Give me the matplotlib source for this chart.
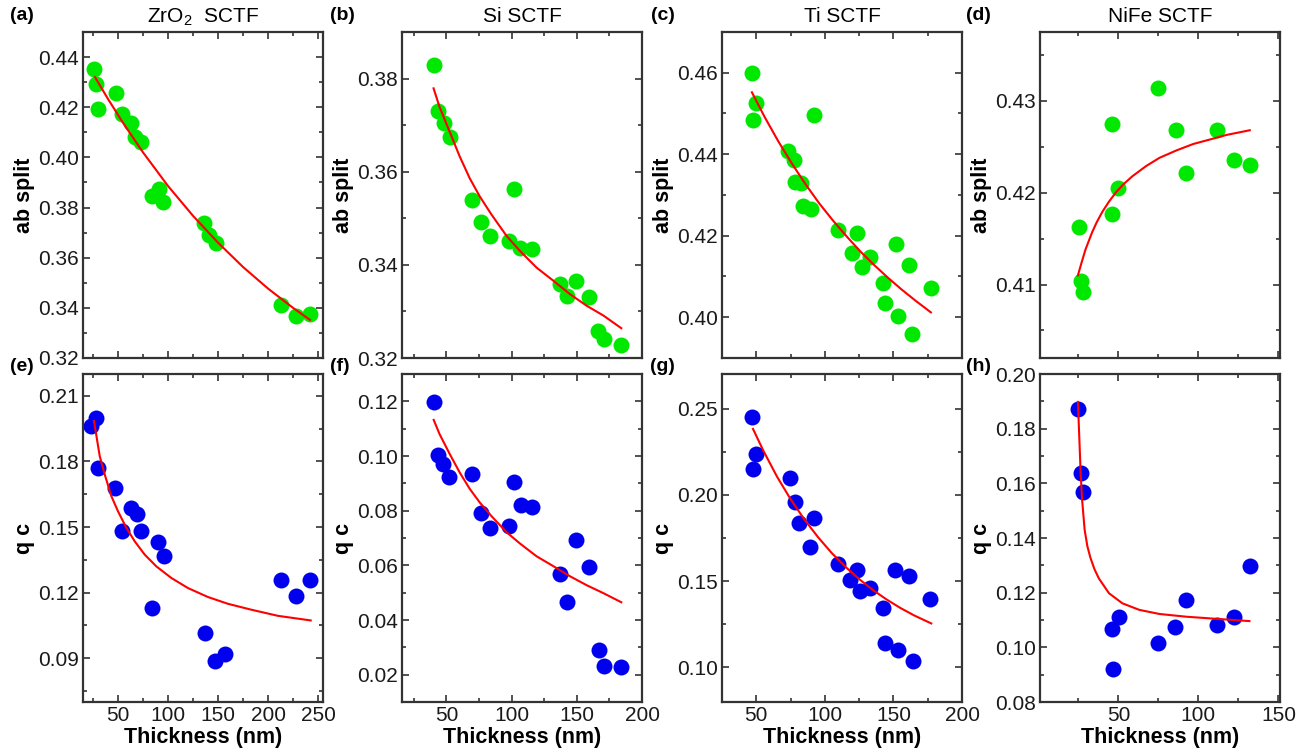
import numpy as np, matplotlib; matplotlib.use('Agg')
import matplotlib.pyplot as plt
from matplotlib.ticker import MultipleLocator, FormatStrFormatter

plt.rcParams['font.family'] = ['Liberation Sans', 'DejaVu Sans']
plt.rcParams['mathtext.fontset'] = 'custom'
plt.rcParams['mathtext.rm'] = 'Liberation Sans'
plt.rcParams['mathtext.default'] = 'regular'

# ---- ZrO2 ----
zro2_ab_x = [26.0, 28.3, 30.0, 47.7, 54.3, 63.3, 66.7, 73.3, 84.0, 91.0, 95.0, 135.7, 141.0, 148.3, 212.7, 227.7, 242.3]
zro2_ab_y = [0.4351, 0.4292, 0.4193, 0.4255, 0.4173, 0.4137, 0.4080, 0.4060, 0.3845, 0.3872, 0.3823, 0.3740, 0.3691, 0.3660, 0.3413, 0.3367, 0.3374]
zro2_ab_fx = [27, 40, 54, 75, 100, 125, 150, 175, 200, 225, 242]
zro2_ab_fy = [0.4320, 0.4233, 0.4144, 0.4020, 0.3886, 0.3767, 0.3660, 0.3563, 0.3477, 0.3400, 0.3352]
zro2_qc_x = [23.4, 27.7, 30.0, 47.4, 54.3, 63.4, 69.0, 73.4, 90.0, 96.0, 84.0, 136.7, 146.7, 156.7, 212.7, 227.7, 242.3]
zro2_qc_y = [0.1962, 0.2001, 0.1771, 0.1680, 0.1481, 0.1588, 0.1560, 0.1481, 0.1432, 0.1369, 0.1129, 0.1014, 0.0889, 0.0920, 0.1259, 0.1186, 0.1256]
zro2_qc_fx = [26.0, 31.7, 36.7, 43.4, 50.0, 58.4, 66.7, 76.7, 88.4, 103.4, 120.0, 140.0, 160.0, 183.4, 210.0, 242.7]
zro2_qc_fy = [0.1985, 0.1825, 0.1741, 0.1641, 0.1572, 0.1496, 0.1435, 0.1374, 0.1320, 0.1267, 0.1221, 0.1180, 0.1149, 0.1122, 0.1094, 0.1073]

# ---- Si ----
si_ab_x = [40.3, 43.5, 47.9, 52.5, 70.0, 76.9, 83.3, 98.2, 101.8, 106.4, 115.9, 137.2, 142.3, 149.2, 159.7, 166.6, 170.5, 184.1]
si_ab_y = [0.3830, 0.3731, 0.3705, 0.3675, 0.3539, 0.3492, 0.3462, 0.3451, 0.3563, 0.3437, 0.3435, 0.3359, 0.3334, 0.3366, 0.3332, 0.3259, 0.3241, 0.3228]
si_ab_fx = [40.2, 44.8, 52.5, 60.2, 67.9, 75.6, 84.6, 96.2, 106.4, 119.2, 132.0, 144.8, 157.7, 170.5, 184.1]
si_ab_fy = [0.3779, 0.3739, 0.3686, 0.3633, 0.3586, 0.3547, 0.3508, 0.3462, 0.3430, 0.3394, 0.3366, 0.3337, 0.3312, 0.3291, 0.3264]
si_qc_x = [40.3, 43.6, 47.4, 52.1, 70.0, 76.9, 83.3, 98.2, 101.8, 107.2, 115.9, 137.2, 142.3, 149.2, 159.7, 166.7, 170.5, 184.1]
si_qc_y = [0.1198, 0.1005, 0.0972, 0.0923, 0.0935, 0.0790, 0.0736, 0.0744, 0.0904, 0.0821, 0.0812, 0.0569, 0.0467, 0.0691, 0.0594, 0.0289, 0.0230, 0.0227]
si_qc_fx = [40.3, 44.8, 52.5, 60.2, 67.9, 75.6, 84.6, 96.2, 106.4, 119.2, 132.0, 144.8, 157.7, 170.5, 184.1]
si_qc_fy = [0.1132, 0.1080, 0.1008, 0.0940, 0.0880, 0.0830, 0.0780, 0.0721, 0.0680, 0.0633, 0.0597, 0.0560, 0.0527, 0.0498, 0.0465]

# ---- Ti ----
ti_ab_x = [46.8, 50.0, 47.6, 92.0, 73.2, 77.6, 78.3, 82.4, 83.7, 89.8, 109.8, 123.2, 120.0, 132.9, 126.8, 151.7, 161.0, 142.7, 143.9, 153.2, 163.4, 177.6]
ti_ab_y = [0.4600, 0.4525, 0.4485, 0.4497, 0.4408, 0.4387, 0.4332, 0.4330, 0.4272, 0.4265, 0.4213, 0.4207, 0.4157, 0.4148, 0.4123, 0.4180, 0.4127, 0.4084, 0.4036, 0.4002, 0.3958, 0.4072]
ti_ab_fx = [46.8, 56, 66, 76, 86, 96, 106, 116, 126, 136, 146, 156, 166, 177.3]
ti_ab_fy = [0.4552, 0.4492, 0.4432, 0.4377, 0.4326, 0.4279, 0.4237, 0.4198, 0.4161, 0.4128, 0.4097, 0.4068, 0.4041, 0.4012]
ti_qc_x = [46.8, 50.0, 47.6, 74.4, 78.0, 81.0, 92.2, 89.0, 109.8, 123.2, 118.3, 125.6, 132.9, 142.7, 143.9, 151.2, 153.2, 161.0, 164.1, 176.8]
ti_qc_y = [0.2452, 0.2239, 0.2149, 0.2100, 0.1959, 0.1834, 0.1863, 0.1699, 0.1598, 0.1564, 0.1506, 0.1444, 0.1458, 0.1342, 0.1139, 0.1564, 0.1100, 0.1531, 0.1039, 0.1394]
ti_qc_fx = [47.6, 55, 65, 75, 85, 95, 105, 115, 125, 135, 145, 155, 165, 177.6]
ti_qc_fy = [0.2382, 0.2258, 0.2107, 0.1975, 0.1858, 0.1755, 0.1663, 0.1583, 0.1512, 0.1449, 0.1394, 0.1345, 0.1302, 0.1255]

# ---- NiFe ----
nife_ab_x = [25.2, 26.8, 27.7, 46.2, 46.2, 50.0, 74.6, 85.8, 92.5, 111.5, 122.4, 132.1]
nife_ab_y = [0.4163, 0.4104, 0.4092, 0.4275, 0.4177, 0.4205, 0.4314, 0.4268, 0.4221, 0.4268, 0.4236, 0.4230]
nife_ab_fx = [24.7, 27.0, 29.4, 33.6, 36.5, 39.9, 44.0, 48.3, 53.0, 58.8, 67.3, 75.7, 86.2, 96.7, 107.3, 117.8, 132.1]
nife_ab_fy = [0.4110, 0.4124, 0.4138, 0.4157, 0.4168, 0.4179, 0.4190, 0.4200, 0.4209, 0.4218, 0.4229, 0.4238, 0.4246, 0.4253, 0.4258, 0.4263, 0.4268]
nife_qc_x = [24.7, 26.8, 27.7, 46.2, 46.6, 50.4, 74.6, 85.2, 92.5, 111.5, 122.4, 132.1]
nife_qc_y = [0.1871, 0.1639, 0.1569, 0.1066, 0.0922, 0.1112, 0.1017, 0.1075, 0.1173, 0.1081, 0.1112, 0.1296]
nife_qc_fx = [24.7, 25.6, 26.4, 27.3, 28.9, 30.6, 32.5, 35.1, 37.8, 44.1, 52.5, 63.1, 75.7, 92.5, 109.4, 131.9]
nife_qc_fy = [0.1898, 0.1761, 0.1639, 0.1541, 0.1430, 0.1370, 0.1328, 0.1285, 0.1252, 0.1198, 0.1161, 0.1137, 0.1122, 0.1112, 0.1105, 0.1096]

titles = ['ZrO$_2$  SCTF', 'Si SCTF', 'Ti SCTF', 'NiFe SCTF']
tags = ['(a)', '(b)', '(c)', '(d)', '(e)', '(f)', '(g)', '(h)']

GREEN = '#00e800'; BLUE = '#0000ee'; FRAME = '#333333'
W, H = 1313, 752
lefts = [83, 402, 722, 1040]
rows = [(32, 358), (374, 702)]
tag_xy = [(10, 15), (330, 15), (651, 15), (966, 15), (10, 367), (330, 367), (650, 367), (966, 367)]

panels = [
    (zro2_ab_x, zro2_ab_y, zro2_ab_fx, zro2_ab_fy, (15, 255), (0.32, 0.45), 0.02),
    (si_ab_x, si_ab_y, si_ab_fx, si_ab_fy, (16, 200), (0.32, 0.39), 0.02),
    (ti_ab_x, ti_ab_y, ti_ab_fx, ti_ab_fy, (25, 200), (0.39, 0.47), 0.02),
    (nife_ab_x, nife_ab_y, nife_ab_fx, nife_ab_fy, (1, 151), (0.402, 0.4375), 0.01),
    (zro2_qc_x, zro2_qc_y, zro2_qc_fx, zro2_qc_fy, (15, 255), (0.07, 0.22), 0.03),
    (si_qc_x, si_qc_y, si_qc_fx, si_qc_fy, (16, 200), (0.01, 0.13), 0.02),
    (ti_qc_x, ti_qc_y, ti_qc_fx, ti_qc_fy, (25, 200), (0.08, 0.27), 0.05),
    (nife_qc_x, nife_qc_y, nife_qc_fx, nife_qc_fy, (1, 151), (0.08, 0.20), 0.02),
]

fig = plt.figure(figsize=(W/100, H/100), dpi=100)
for i, (x, y, fx, fy, xl, yl, ymaj) in enumerate(panels):
    r, c = divmod(i, 4)
    top, bot = rows[r]
    ax = fig.add_axes([lefts[c]/W, 1-bot/H, 240/W, (bot-top)/H])
    ax.plot(x, y, 'o', ms=11.5, mew=0, color=GREEN if r == 0 else BLUE, zorder=2)
    ax.plot(fx, fy, '-', color='#ff0000', lw=1.5, zorder=3)
    ax.set_xlim(*xl); ax.set_ylim(*yl)
    ax.xaxis.set_major_locator(MultipleLocator(50)); ax.xaxis.set_minor_locator(MultipleLocator(25))
    ax.yaxis.set_major_locator(MultipleLocator(ymaj)); ax.yaxis.set_minor_locator(MultipleLocator(ymaj/2))
    ax.yaxis.set_major_formatter(FormatStrFormatter('%.2f'))
    ax.tick_params(which='both', direction='in', top=True, right=True, color=FRAME, width=1.2,
                   labelsize=15, labelcolor='#1a1a1a', pad=3)
    ax.tick_params(which='major', length=5); ax.tick_params(which='minor', length=3)
    for s in ax.spines.values():
        s.set_color(FRAME); s.set_linewidth(1.6)
    if r == 0:
        ax.tick_params(labelbottom=False)
        ax.set_title(titles[c], fontsize=15, pad=7)
        ax.set_ylabel('ab split', fontsize=15.5, fontweight='bold', labelpad=2)
    else:
        ax.set_xlabel('Thickness (nm)', fontsize=15.5, fontweight='bold', labelpad=1)
        ax.set_ylabel('q c', fontsize=15.5, fontweight='bold', labelpad=2)
    tx, ty = tag_xy[i]
    fig.text(tx/W, 1-ty/H, tags[i], fontsize=14, fontweight='bold', va='center', ha='left')

fig.savefig('out.png', dpi=100)
